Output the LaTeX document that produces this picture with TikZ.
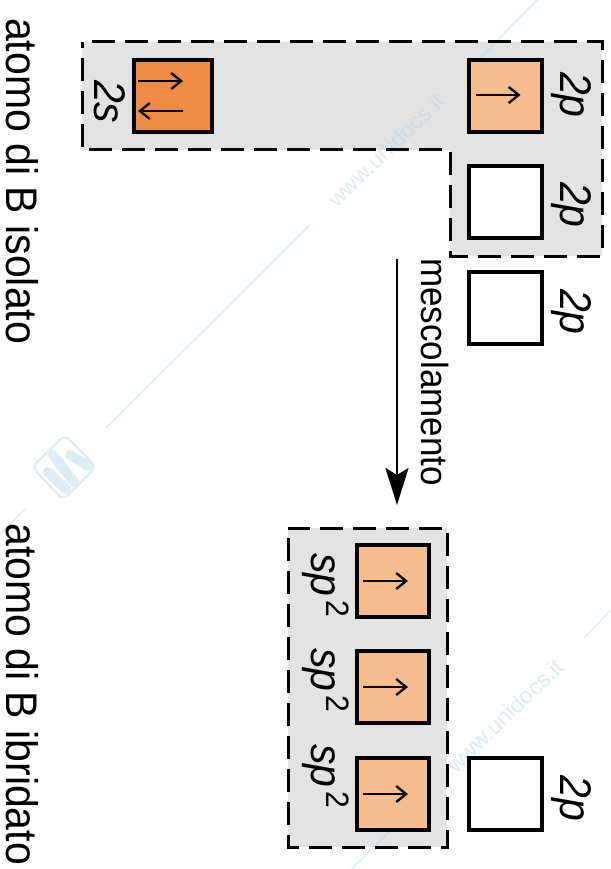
\documentclass[tikz,border=0pt]{standalone}
\usepackage{fontspec}
\setmainfont{Liberation Sans}
\usetikzlibrary{arrows.meta}
\definecolor{panel}{HTML}{E3E3E3}
\definecolor{full}{HTML}{EE8C45}
\definecolor{half}{HTML}{F5BC90}
\definecolor{wm}{HTML}{BBD8EC}
\newcommand{\bigtxt}{\fontsize{41}{41}\selectfont}
\newcommand{\medtxt}{\fontsize{41}{41}\selectfont\itshape}
\newcommand{\sptwo}{sp\hspace{4pt}\raisebox{14pt}{\fontsize{30}{30}\selectfont\upshape 2}}
\tikzset{
  panelbox/.style={fill=panel,draw=none},
  paneledge/.style={draw=black,line width=3pt,dash pattern=on 23pt off 10pt,dash phase=23pt},
  orb/.style={draw=black,line width=4pt,minimum width=73pt,minimum height=72pt,inner sep=0pt,outer sep=0pt,anchor=north west},
  lab/.style={transform shape,rotate=-90,yscale=1.08,inner sep=0pt,anchor=base west},
  spin/.style={line width=2.3pt,-{Straight Barb[length=10pt,width=16pt,line width=2.3pt]}},
  wmline/.style={wm,opacity=.5,line width=1.5pt},
  wmtext/.style={wm,opacity=.5,font=\fontsize{23}{23}\selectfont,rotate=44,inner sep=0pt}
}
\begin{document}
\begin{tikzpicture}[x=1pt,y=-1pt]
\useasboundingbox (0,0) rectangle (610,869);
% panels
\fill[panelbox] (82,42) -- (602,42) -- (602,256) -- (450,256) -- (450,150) -- (82,150) -- cycle;
\fill[panelbox] (288,528) rectangle (447,847);
% watermark
\draw[wmline] (537,0) -- (478,60);
\draw[wmline] (310,225) -- (106,428);
\draw[wmline] (25,509) -- (0,535);
\draw[wmline] (611,610) -- (585,637);
\draw[wmline] (428,793) -- (352,869);
\node[wmtext] (wm1) at (386,150) {www.unidocs.it};
\node[wmtext] (wm2) at (505,716) {www.unidocs.it};
\draw[wmline,line width=2.2pt,rounded corners=6pt] (65,435) -- (96,467) -- (63,500) -- (32,467) -- cycle;
\draw[wm,opacity=.5,line width=10pt,line cap=round] (48,472) -- (66,489);
\draw[wm,opacity=.5,line width=10pt,line cap=round] (53,455) -- (74,482);
\draw[wm,opacity=.5,line width=10pt,line cap=round] (70,455) -- (88,466);
% dashed outlines
\draw[paneledge] (82,42) -- (602,42) -- (602,256) -- (450,256) -- (450,150) -- (82,150) -- cycle;
\draw[paneledge] (288,528) rectangle (447,847);
% orbitals
\node[orb,fill=full,minimum width=78pt] (s) at (134,60) {};
\node[orb,fill=half] (pa) at (469,60) {};
\node[orb,fill=white] (pb) at (469,166) {};
\node[orb,fill=white] (pc) at (469,272) {};
\node[orb,fill=half,minimum width=72pt] (ha) at (357,545) {};
\node[orb,fill=half,minimum width=72pt] (hb) at (357,651) {};
\node[orb,fill=half,minimum width=72pt] (hc) at (357,758) {};
\node[orb,fill=white] (pd) at (469,758) {};
% spins
\draw[spin] ([xshift=-35pt,yshift=15pt]s.center) -- ([xshift=10pt,yshift=15pt]s.center);
\draw[spin] ([xshift=10pt,yshift=-15pt]s.center) -- ([xshift=-35pt,yshift=-15pt]s.center);
\draw[spin] ([xshift=-30pt,yshift=1pt]pa.center) -- ([xshift=15pt,yshift=1pt]pa.center);
\draw[spin] ([xshift=-30pt]ha.center) -- ([xshift=15pt]ha.center);
\draw[spin] ([xshift=-30pt]hb.center) -- ([xshift=15pt]hb.center);
\draw[spin] ([xshift=-30pt]hc.center) -- ([xshift=15pt]hc.center);
% labels
\node[lab,font=\bigtxt] (t1) at (6,18) {atomo di B isolato};
\node[lab,font=\bigtxt] (t2) at (6,523) {atomo di B ibridato};
\node[lab,font=\medtxt] (l2s) at (94,80) {2s};
\node[lab,font=\medtxt] (l2pa) at (560,72) {2p};
\node[lab,font=\medtxt] (l2pb) at (560,182) {2p};
\node[lab,font=\medtxt] (l2pc) at (560,289) {2p};
\node[lab,font=\medtxt] (l2pd) at (560,775) {2p};
\node[lab,font=\medtxt] (la) at (311,553) {\sptwo};
\node[lab,font=\medtxt] (lb) at (311,648) {\sptwo};
\node[lab,font=\medtxt] (lc) at (311,744) {\sptwo};
\node[lab,font=\fontsize{35}{35}\selectfont] (mix) at (421,258) {mescolamento};
% main arrow
\coordinate (from) at (397,259);
\coordinate (to) at (397,505);
\draw[line width=2.5pt,-{Stealth[length=37pt,width=23pt,inset=7pt]}] (from) -- (to);
\end{tikzpicture}
\end{document}
